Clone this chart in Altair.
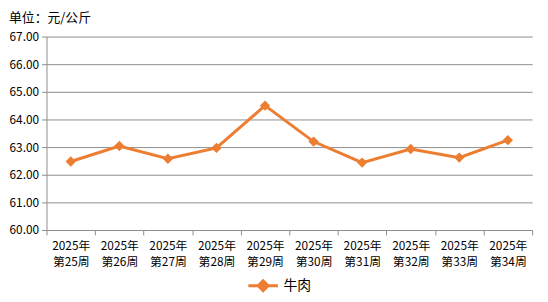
import altair as alt
import pandas as pd

weeks = ["2025年\n第25周", "2025年\n第26周", "2025年\n第27周", "2025年\n第28周", "2025年\n第29周",
         "2025年\n第30周", "2025年\n第31周", "2025年\n第32周", "2025年\n第33周", "2025年\n第34周"]
beef = [62.48, 63.04, 62.58, 62.97, 64.50, 63.20, 62.44, 62.93, 62.62, 63.25]
series = "牛肉"

df = pd.DataFrame({"idx": [i + 0.5 for i in range(len(weeks))], "week": weeks, "value": beef, "s": series})

label_arr = "[" + ",".join("'" + w.replace("\n", "\\n") + "'" for w in weeks) + "]"
label_expr = f"datum.value < {len(weeks)} ? split({label_arr}[datum.value], '\\n') : ''"

FONT = "Noto Sans CJK SC"
ORANGE = "#ED7D31"
GRID = "#8c8c8c"

x = alt.X("idx:Q", scale=alt.Scale(domain=[0, len(weeks)], nice=False, zero=False),
          axis=alt.Axis(values=list(range(len(weeks) + 1)), labelExpr=label_expr, title=None,
                        grid=False, domain=False, tickColor=GRID, tickSize=5, labelOffset=24.6,
                        labelFlush=False, labelOverlap=False, labelBound=False, labelPadding=6,
                        labelFont=FONT, labelFontSize=12, labelColor="#000", labelLineHeight=16,
                        labelBaseline="top"))
y = alt.Y("value:Q", scale=alt.Scale(domain=[60, 67], nice=False, zero=False),
          axis=alt.Axis(values=[60, 61, 62, 63, 64, 65, 66, 67], format=".2f", title=None,
                        gridColor=GRID, domainColor=GRID, tickColor=GRID, tickSize=5,
                        labelFont=FONT, labelFontSize=12, labelColor="#000", labelPadding=3))

color = alt.Color("s:N", scale=alt.Scale(domain=[series], range=[ORANGE]),
                  legend=alt.Legend(title=None, orient="none", legendX=203, legendY=236,
                                    symbolType="M-1,0L1,0M0,-0.33L0.33,0L0,0.33L-0.33,0Z",
                                    symbolSize=900, symbolStrokeWidth=3, symbolFillColor=ORANGE,
                                    labelFont=FONT, labelFontSize=14, labelColor="#000", labelOffset=4))

base = alt.Chart(df)
line = base.mark_line(strokeWidth=3).encode(x=x, y=y, color=color)
pts = base.mark_point(shape="diamond", size=110, filled=True, opacity=1).encode(
    x=x, y=y, color=alt.Color("s:N", scale=alt.Scale(domain=[series], range=[ORANGE]), legend=None))

chart = (line + pts).properties(
    width=492, height=196,
    title=alt.TitleParams("单位：元/公斤", anchor="start", fontSize=13, fontWeight="normal",
                          font=FONT, color="#000", offset=6),
    autosize=alt.AutoSizeParams(type="none"),
    padding={"left": 39, "top": 27, "right": 8, "bottom": 70},
).configure_view(stroke=None)

chart.save("out.html", embed_options={"renderer": "svg", "actions": False})
